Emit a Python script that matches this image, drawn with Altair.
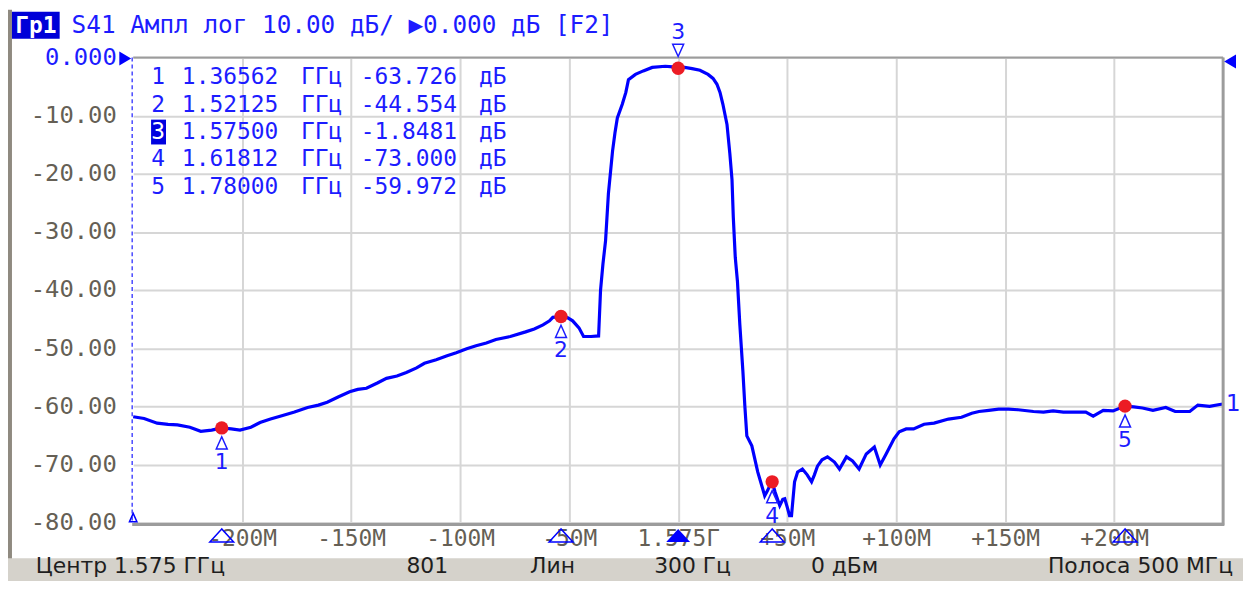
import altair as alt
import pandas as pd

# ---------------- data ----------------
CENTER_GHZ = 1.575
SPAN_MHZ = 500

trace_offset_mhz = [
    -250, -245, -239, -234, -229.7, -224, -219, -214, -209.38, -205, -201, -196, -191.8, -187,
    -182.6, -176, -170, -165, -161, -156, -150.7, -147, -143, -138, -133.8, -129, -124.7, -120,
    -116.4, -111, -106, -101.8, -97, -92.7, -88, -83.6, -77, -70, -66, -62, -59, -57.5, -53.75,
    -51, -48.4, -45.5, -43.4, -40, -36.5, -35.6, -34.5, -33.3, -32, -30.1, -29, -27.9, -25.6,
    -24, -22.8, -19.6, -16, -11.9, -5.9, -2.5, 0, 3, 6.4, 10, 13.7, 16, 17.8, 19.2, 20.5, 22.4,
    23.7, 24.7, 25.3, 26.2, 27.2, 28.3, 29.7, 30.6, 31.5, 33.8, 36.5, 38, 39.7, 41, 42, 43.12,
    44.5, 46.6, 48, 48.9, 50, 51.1, 52, 53.4, 54.8, 57, 59.2, 61.2, 62.5, 63.9, 66, 68.5, 71.7,
    74, 77.2, 80, 83, 86.3, 90, 92.7, 95.4, 99, 101.4, 104.6, 108, 112.8, 117.4, 124, 130,
    134.7, 138, 142.5, 147, 151.6, 156, 163, 167.6, 172, 176.7, 182, 187, 190.4, 195, 199.5,
    205, 209, 213, 217.8, 223.7, 228, 234.7, 238.4, 243.8, 248.4, 250,
]
trace_db = [
    -61.8, -62.1, -62.9, -63.1, -63.2, -63.6, -64.3, -64.1, -63.726, -63.9, -64.1, -63.6, -62.8,
    -62.2, -61.7, -61.0, -60.2, -59.8, -59.3, -58.4, -57.5, -57.1, -56.9, -56.0, -55.2, -54.8,
    -54.2, -53.4, -52.6, -52.0, -51.3, -50.8, -50.1, -49.6, -49.1, -48.5, -48.0, -47.2, -46.7,
    -46.0, -45.3, -44.7, -44.554, -44.7, -45.3, -46.5, -48.0, -48.0, -47.9, -40.0, -35.5, -31.5,
    -23.4, -16.1, -13.0, -10.4, -8.0, -6.0, -3.8, -2.9, -2.3, -1.7, -1.5, -1.6, -1.8481, -1.7,
    -1.9, -2.2, -2.9, -3.6, -4.6, -6.0, -8.0, -11.5, -16.5, -21.0, -27.5, -34.4, -38.5, -46.0,
    -54.0, -60.0, -65.1, -66.8, -71.3, -73.2, -75.4, -74.5, -73.7, -73.0, -74.8, -77.1, -76.0,
    -75.9, -77.3, -78.8, -78.8, -73.0, -71.3, -70.8, -71.8, -73.0, -71.8, -70.3, -69.2, -68.7,
    -69.6, -70.8, -68.7, -69.4, -70.8, -68.2, -67.0, -70.1, -68.2, -65.6, -64.4, -63.9, -63.9,
    -63.1, -62.9, -62.2, -61.9, -61.2, -60.9, -60.7, -60.5, -60.5, -60.6, -60.9, -61.0, -60.8,
    -61.0, -61.0, -61.0, -61.7, -60.7, -60.8, -59.972, -60.1, -60.3, -60.7, -60.2, -60.9, -60.9,
    -59.8, -60.0, -59.7, -59.6,
]

marker_ids = [1, 2, 3, 4, 5]
marker_freq_ghz = [1.36562, 1.52125, 1.57500, 1.61812, 1.78000]
marker_db = [-63.726, -44.554, -1.8481, -73.000, -59.972]
active_marker = 3

y_ticks = [0, -10, -20, -30, -40, -50, -60, -70, -80]
x_ticks = [-200, -150, -100, -50, 0, 50, 100, 150, 200]

header_tag = "Гр1"
header_text = "S41 Ампл лог 10.00 дБ/ ▶0.000 дБ [F2]"
status_labels = ["Центр 1.575 ГГц", "801", "Лин", "300 Гц", "0 дБм", "Полоса 500 МГц"]
trace_name = "1"

# ---------------- styling ----------------
BLUE = "#0000ff"
TXT_BLUE = "#1c1cff"
RED = "#ec1c24"
AXIS_TXT = "#655f55"
GRID = "#d6d6d6"
BORDER = "#9c9c9c"
BAR = "#d5d2cb"
MONO = "DejaVu Sans Mono"
SANS = "DejaVu Sans"

PW, PH = 1097, 468
PAD = {"left": 126, "top": 48, "right": 20, "bottom": 57}

TRI_UP = "M0,-1L-0.9,1L0.9,1Z"
TRI_DOWN = "M0,1L-0.9,-1L0.9,-1Z"
WIDE_TRI = "M0,-0.55L-1,0.55L1,0.55Z"
TRI_RIGHT = "M-0.85,-1L0.85,0L-0.85,1Z"
TRI_LEFT = "M0.85,-1L-0.85,0L0.85,1Z"

# ---------------- frames ----------------
trace = pd.DataFrame({"off": trace_offset_mhz, "db": trace_db})
markers = pd.DataFrame({"id": marker_ids, "f": marker_freq_ghz, "db": marker_db})
markers["off"] = (markers["f"] - CENTER_GHZ) * 1000
markers["ftxt"] = markers["f"].map(lambda v: f"{v:.5f}")
markers["vtxt"] = markers["db"].map(lambda v: f"{v:.3f}" if abs(v) >= 10 else f"{v:.4f}")
markers["row"] = list(range(len(marker_ids)))
one = pd.DataFrame({"k": [0]})

half = SPAN_MHZ / 2
xs = alt.Scale(domain=[-half, half], nice=False, zero=False)
ys = alt.Scale(domain=[-80, 0], nice=False, zero=False)
X = alt.X("off:Q", scale=xs, axis=None)
Y = alt.Y("db:Q", scale=ys, axis=None)

x_axis = alt.Axis(
    values=x_ticks,
    labelExpr=f"datum.value == 0 ? '{CENTER_GHZ}Г' : (datum.value > 0 ? '+' : '-') + abs(datum.value) + 'M'",
    grid=True, gridColor=GRID, gridWidth=2, domain=False, ticks=False,
    labelFont=MONO, labelFontSize=23, labelColor=AXIS_TXT, labelPadding=5,
    labelFlush=False, labelOverlap=False, title=None,
)
y_axis = alt.Axis(
    values=y_ticks,
    labelExpr="datum.value == 0 ? '0.000' : '-' + format(abs(datum.value), '.2f')",
    grid=True, gridColor=GRID, gridWidth=2, domain=False, ticks=False,
    labelFont=MONO, labelFontSize=24,
    labelColor=alt.condition("datum.value == 0", alt.value(TXT_BLUE), alt.value(AXIS_TXT)),
    labelPadding=17, labelFlush=False, labelOverlap=False, title=None,
)

layers = []

# window frame: left border and status bar
layers.append(alt.Chart(one).mark_rect(color="#8f8a80").encode(
    x=alt.value(-126), x2=alt.value(-122), y=alt.value(-48), y2=alt.value(506)))
layers.append(alt.Chart(one).mark_rect(color=BAR).encode(
    x=alt.value(-126), x2=alt.value(PW + 20), y=alt.value(504), y2=alt.value(530)))

# trace with axes / grid
layers.append(alt.Chart(trace).mark_line(color=BLUE, strokeWidth=3.2).encode(
    x=alt.X("off:Q", scale=xs, axis=x_axis),
    y=alt.Y("db:Q", scale=ys, axis=y_axis),
))

# plot borders
layers.append(alt.Chart(one).mark_rule(color=BORDER, strokeWidth=2).encode(
    x=alt.value(0), x2=alt.value(PW), y=alt.value(0)))
layers.append(alt.Chart(one).mark_rule(color=BORDER, strokeWidth=3).encode(
    x=alt.value(-1), x2=alt.value(PW + 1), y=alt.value(PH + 2)))
layers.append(alt.Chart(one).mark_rule(color=BORDER, strokeWidth=3).encode(
    x=alt.value(PW), y=alt.value(0), y2=alt.value(PH + 3)))
layers.append(alt.Chart(one).mark_rule(color="#4a4aff", strokeWidth=1.5, strokeDash=[4, 3]).encode(
    x=alt.value(-1), y=alt.value(0), y2=alt.value(PH)))

# reference-level arrows and start marker
layers.append(alt.Chart(one).mark_point(shape=TRI_RIGHT, size=196, filled=True, color=BLUE, opacity=1).encode(
    x=alt.value(-8), y=alt.value(1)))
layers.append(alt.Chart(one).mark_point(shape=TRI_LEFT, size=196, filled=True, color=BLUE, opacity=1).encode(
    x=alt.value(PW + 7), y=alt.value(4)))
layers.append(alt.Chart(one).mark_point(shape=TRI_UP, size=70, filled=False, color=BLUE, strokeWidth=1.5, opacity=1).encode(
    x=alt.value(0), y=alt.value(PH - 5)))

# trace name at right end
layers.append(alt.Chart(trace).transform_window(
    rn="row_number()", sort=[alt.SortField("off", order="descending")]
).transform_filter("datum.rn == 1").mark_text(
    align="left", dx=3, font=SANS, fontSize=23, color=TXT_BLUE).encode(x=X, y=Y, text=alt.value(trace_name)))

# red marker dots
layers.append(alt.Chart(markers).mark_circle(color=RED, size=180, opacity=1).encode(x=X, y=Y))

# marker symbols on trace
inactive = f"datum.id != {active_marker}"
active = f"datum.id == {active_marker}"
layers.append(alt.Chart(markers).transform_filter(inactive).mark_point(
    shape=TRI_UP, size=150, filled=False, color=TXT_BLUE, strokeWidth=1.5, opacity=1, yOffset=15
).encode(x=X, y=Y))
layers.append(alt.Chart(markers).transform_filter(active).mark_point(
    shape=TRI_DOWN, size=150, filled=False, color=TXT_BLUE, strokeWidth=1.5, opacity=1, yOffset=-18
).encode(x=X, y=Y))
layers.append(alt.Chart(markers).transform_filter(inactive).mark_text(
    font=SANS, fontSize=22, color=TXT_BLUE, yOffset=34
).encode(x=X, y=Y, text="id:N"))
layers.append(alt.Chart(markers).transform_filter(active).mark_text(
    font=SANS, fontSize=22, color=TXT_BLUE, yOffset=-36
).encode(x=X, y=Y, text="id:N"))

# marker symbols on the frequency axis
layers.append(alt.Chart(markers).transform_filter(inactive).mark_point(
    shape=WIDE_TRI, size=576, filled=False, color=BLUE, strokeWidth=1.5, opacity=1
).encode(x=X, y=alt.value(PH + 13)))
layers.append(alt.Chart(markers).transform_filter(active).mark_point(
    shape=WIDE_TRI, size=576, filled=True, color=BLUE, opacity=1
).encode(x=X, y=alt.value(PH + 13)))

# marker table
tbl = alt.Chart(markers).transform_calculate(ty="20 + 27.5 * datum.row")
TY = alt.Y("ty:Q", scale=None, axis=None)
layers.append(tbl.transform_filter(active).transform_calculate(
    t0="datum.ty - 12.5", t1="datum.ty + 12.5").mark_rect(color="#0000e0").encode(
    x=alt.value(18), x2=alt.value(33), y=alt.Y("t0:Q", scale=None, axis=None), y2="t1:Q"))
layers.append(tbl.transform_filter(inactive).mark_text(
    font=MONO, fontSize=23, color=TXT_BLUE, align="center").encode(x=alt.value(25), y=TY, text="id:N"))
layers.append(tbl.transform_filter(active).mark_text(
    font=MONO, fontSize=23, color="white", align="center").encode(x=alt.value(25), y=TY, text="id:N"))
layers.append(tbl.mark_text(font=MONO, fontSize=23, color=TXT_BLUE, align="left").encode(
    x=alt.value(49), y=TY, text="ftxt:N"))
layers.append(tbl.mark_text(font=MONO, fontSize=23, color=TXT_BLUE, align="left").encode(
    x=alt.value(169), y=TY, text=alt.value("ГГц")))
layers.append(tbl.mark_text(font=MONO, fontSize=23, color=TXT_BLUE, align="left").encode(
    x=alt.value(229), y=TY, text="vtxt:N"))
layers.append(tbl.mark_text(font=MONO, fontSize=23, color=TXT_BLUE, align="left").encode(
    x=alt.value(348), y=TY, text=alt.value("дБ")))

# header
layers.append(alt.Chart(one).mark_rect(color="#0000d8").encode(
    x=alt.value(-122), x2=alt.value(-74), y=alt.value(-46), y2=alt.value(-19)))
layers.append(alt.Chart(one).mark_text(font=MONO, fontSize=23, color="white", fontWeight="bold").encode(
    x=alt.value(-98), y=alt.value(-32), text=alt.value(header_tag)))
layers.append(alt.Chart(one).mark_text(font=MONO, fontSize=24.5, color=TXT_BLUE, align="left").encode(
    x=alt.value(-62), y=alt.value(-32), text=alt.value(header_text)))

# status bar labels
status_x = [-98, 296, 422, 563, 716, PW + 10]
status_align = ["left", "center", "center", "center", "center", "right"]
for lab, sx, al in zip(status_labels, status_x, status_align):
    layers.append(alt.Chart(one).mark_text(font=SANS, fontSize=22, color="#1e1e1e", align=al).encode(
        x=alt.value(sx), y=alt.value(512), text=alt.value(lab)))

chart = alt.layer(*layers).resolve_axis(x="independent", y="independent").properties(
    width=PW, height=PH, padding=PAD, autosize=alt.AutoSizeParams(type="none"),
    background="white",
).configure_view(strokeWidth=0)

chart.save("out.html", embed_options={"renderer": "svg", "actions": False})
